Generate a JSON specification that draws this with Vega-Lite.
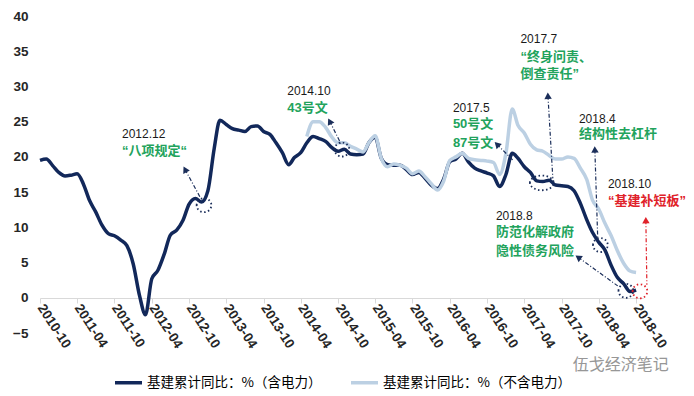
{
  "$schema": "https://vega.github.io/schema/vega-lite/v6.json",
  "width": 603,
  "height": 317,
  "autosize": {"type": "none"},
  "padding": {"left": 40, "top": 16, "right": 51, "bottom": 63},
  "background": "white",
  "config": {"view": {"stroke": null}, "font": "Liberation Sans, Noto Sans CJK SC", "axis": {"labelOverlap": false}, "axisX": {"labelOverlap": false}, "axisY": {"labelOverlap": false}},
  "datasets": {
    "series": [
      {"d": "2010/10/01", "incl": 19.5},
      {"d": "2010/11/01", "incl": 19.7},
      {"d": "2010/12/01", "incl": 18.8},
      {"d": "2011/01/01", "incl": 17.8},
      {"d": "2011/02/01", "incl": 17.3},
      {"d": "2011/03/01", "incl": 17.4},
      {"d": "2011/04/01", "incl": 17.6},
      {"d": "2011/05/01", "incl": 16.2},
      {"d": "2011/06/01", "incl": 13.8},
      {"d": "2011/07/01", "incl": 12.2},
      {"d": "2011/08/01", "incl": 10.3},
      {"d": "2011/09/01", "incl": 9.1},
      {"d": "2011/10/01", "incl": 8.8},
      {"d": "2011/11/01", "incl": 8.2},
      {"d": "2011/12/01", "incl": 7.4},
      {"d": "2012/01/01", "incl": 4.8},
      {"d": "2012/02/01", "incl": 0.3},
      {"d": "2012/03/01", "incl": -2.4},
      {"d": "2012/04/01", "incl": 2.7},
      {"d": "2012/05/01", "incl": 3.9},
      {"d": "2012/06/01", "incl": 6.2},
      {"d": "2012/07/01", "incl": 8.9},
      {"d": "2012/08/01", "incl": 9.6},
      {"d": "2012/09/01", "incl": 11.0},
      {"d": "2012/10/01", "incl": 13.3},
      {"d": "2012/11/01", "incl": 14.1},
      {"d": "2012/12/01", "incl": 13.6},
      {"d": "2013/01/01", "incl": 15.2},
      {"d": "2013/02/01", "incl": 21.2},
      {"d": "2013/03/01", "incl": 25.2},
      {"d": "2013/04/01", "incl": 24.6},
      {"d": "2013/05/01", "incl": 24.0},
      {"d": "2013/06/01", "incl": 23.8},
      {"d": "2013/07/01", "incl": 23.6},
      {"d": "2013/08/01", "incl": 24.3},
      {"d": "2013/09/01", "incl": 24.4},
      {"d": "2013/10/01", "incl": 23.6},
      {"d": "2013/11/01", "incl": 23.2},
      {"d": "2013/12/01", "incl": 22.0},
      {"d": "2014/01/01", "incl": 20.6},
      {"d": "2014/02/01", "incl": 18.9},
      {"d": "2014/03/01", "incl": 19.9},
      {"d": "2014/04/01", "incl": 20.6},
      {"d": "2014/05/01", "incl": 22.0, "excl": 22.9},
      {"d": "2014/06/01", "incl": 22.9, "excl": 25.0},
      {"d": "2014/07/01", "incl": 22.6, "excl": 25.0},
      {"d": "2014/08/01", "incl": 22.2, "excl": 24.2},
      {"d": "2014/09/01", "incl": 21.3, "excl": 22.8},
      {"d": "2014/10/01", "incl": 20.8, "excl": 22.0},
      {"d": "2014/11/01", "incl": 21.1, "excl": 22.0},
      {"d": "2014/12/01", "incl": 20.4, "excl": 21.5},
      {"d": "2015/01/01", "incl": 20.3, "excl": 21.1},
      {"d": "2015/02/01", "incl": 20.4, "excl": 20.7},
      {"d": "2015/03/01", "incl": 22.0, "excl": 22.0},
      {"d": "2015/04/01", "incl": 22.8, "excl": 23.0},
      {"d": "2015/05/01", "incl": 19.8, "excl": 19.8},
      {"d": "2015/06/01", "incl": 18.9, "excl": 18.6},
      {"d": "2015/07/01", "incl": 18.8, "excl": 19.0},
      {"d": "2015/08/01", "incl": 18.8, "excl": 18.8},
      {"d": "2015/09/01", "incl": 18.2, "excl": 18.4},
      {"d": "2015/10/01", "incl": 17.5, "excl": 17.6},
      {"d": "2015/11/01", "incl": 17.8, "excl": 18.0},
      {"d": "2015/12/01", "incl": 17.0, "excl": 17.2},
      {"d": "2016/01/01", "incl": 16.0, "excl": 16.2},
      {"d": "2016/02/01", "incl": 15.5, "excl": 15.3},
      {"d": "2016/03/01", "incl": 16.8, "excl": 16.5},
      {"d": "2016/04/01", "incl": 19.3, "excl": 19.5},
      {"d": "2016/05/01", "incl": 19.7, "excl": 20.0},
      {"d": "2016/06/01", "incl": 20.5, "excl": 20.5},
      {"d": "2016/07/01", "incl": 19.3, "excl": 19.8},
      {"d": "2016/08/01", "incl": 18.4, "excl": 19.6},
      {"d": "2016/09/01", "incl": 18.0, "excl": 19.5},
      {"d": "2016/10/01", "incl": 17.7, "excl": 19.4},
      {"d": "2016/11/01", "incl": 17.3, "excl": 19.2},
      {"d": "2016/12/01", "incl": 15.8, "excl": 17.5},
      {"d": "2017/01/01", "incl": 17.5, "excl": 20.5},
      {"d": "2017/02/01", "incl": 20.5, "excl": 26.8},
      {"d": "2017/03/01", "incl": 19.8, "excl": 24.5},
      {"d": "2017/04/01", "incl": 18.6, "excl": 23.4},
      {"d": "2017/05/01", "incl": 17.8, "excl": 21.8},
      {"d": "2017/06/01", "incl": 16.6, "excl": 21.0},
      {"d": "2017/07/01", "incl": 16.5, "excl": 20.8},
      {"d": "2017/08/01", "incl": 16.7, "excl": 20.2},
      {"d": "2017/09/01", "incl": 16.0, "excl": 19.7},
      {"d": "2017/10/01", "incl": 15.9, "excl": 19.7},
      {"d": "2017/11/01", "incl": 15.8, "excl": 20.0},
      {"d": "2017/12/01", "incl": 15.2, "excl": 19.8},
      {"d": "2018/01/01", "incl": 13.4, "excl": 18.4},
      {"d": "2018/02/01", "incl": 11.1, "excl": 16.8},
      {"d": "2018/03/01", "incl": 9.3, "excl": 13.9},
      {"d": "2018/04/01", "incl": 7.9, "excl": 12.6},
      {"d": "2018/05/01", "incl": 6.8, "excl": 10.6},
      {"d": "2018/06/01", "incl": 4.6, "excl": 8.8},
      {"d": "2018/07/01", "incl": 2.9, "excl": 6.7},
      {"d": "2018/08/01", "incl": 2.0, "excl": 4.9},
      {"d": "2018/09/01", "incl": 0.9, "excl": 3.8},
      {"d": "2018/10/01", "incl": 1.1, "excl": 3.6}
    ],
    "notes": [
      {"d": "2011/11/07", "v": 23.2, "label": "2012.12", "kind": "date"},
      {"d": "2011/11/07", "v": 20.8, "label": "“八项规定“", "kind": "tightening"},
      {"d": "2014/01/25", "v": 29.4, "label": "2014.10", "kind": "date"},
      {"d": "2014/01/25", "v": 27.0, "label": "43号文", "kind": "tightening"},
      {"d": "2016/04/16", "v": 26.9, "label": "2017.5", "kind": "date"},
      {"d": "2016/04/16", "v": 24.6, "label": "50号文", "kind": "tightening"},
      {"d": "2016/04/16", "v": 22.0, "label": "87号文", "kind": "tightening"},
      {"d": "2017/03/13", "v": 36.7, "label": "2017.7", "kind": "date"},
      {"d": "2017/03/13", "v": 34.2, "label": "“终身问责、", "kind": "tightening"},
      {"d": "2017/03/13", "v": 31.7, "label": "倒查责任”", "kind": "tightening"},
      {"d": "2017/12/25", "v": 25.4, "label": "2018.4", "kind": "date"},
      {"d": "2017/12/25", "v": 23.2, "label": "结构性去杠杆", "kind": "tightening"},
      {"d": "2018/05/16", "v": 16.1, "label": "2018.10", "kind": "date"},
      {"d": "2018/05/16", "v": 13.8, "label": "“基建补短板”", "kind": "easing"},
      {"d": "2016/11/13", "v": 11.65, "label": "2018.8", "kind": "date"},
      {"d": "2016/11/13", "v": 9.3, "label": "防范化解政府", "kind": "tightening"},
      {"d": "2016/11/13", "v": 6.7, "label": "隐性债务风险", "kind": "tightening"}
    ],
    "arrows": [
      {"d": "2012/09/11", "v": 18.22, "d2": "2012/11/24", "v2": 14.27, "bearing": 332, "stance": "tightening"},
      {"d": "2014/08/21", "v": 25.06, "d2": "2014/10/15", "v2": 21.89, "bearing": 333, "stance": "tightening"},
      {"d": "2016/11/18", "v": 21.78, "d2": "2017/02/06", "v2": 19.49, "bearing": 315, "stance": "tightening"},
      {"d": "2017/07/26", "v": 28.67, "d2": "2017/08/19", "v2": 16.95, "bearing": 357, "stance": "tightening"},
      {"d": "2018/03/13", "v": 21.05, "d2": "2018/03/27", "v2": 8.47, "bearing": 358, "stance": "tightening"},
      {"d": "2017/12/21", "v": 5.75, "d2": "2018/07/03", "v2": 1.69, "bearing": 305, "stance": "tightening"},
      {"d": "2018/11/18", "v": 11.02, "d2": "2018/11/23", "v2": 1.84, "bearing": 359, "stance": "easing"}
    ],
    "circles": [
      {"d": "2012/12/13", "v": 13.14, "span": "single", "stance": "tightening"},
      {"d": "2014/10/20", "v": 21.05, "span": "single", "stance": "tightening"},
      {"d": "2017/06/26", "v": 16.31, "span": "double", "stance": "tightening"},
      {"d": "2018/04/09", "v": 7.49, "span": "single", "stance": "tightening"},
      {"d": "2018/08/12", "v": 0.99, "span": "single", "stance": "tightening"},
      {"d": "2018/10/20", "v": 0.92, "span": "single", "stance": "easing"}
    ],
    "mark": [
      {"d": "2017/11/25", "v": -9.5, "label": "伍戈经济笔记"}
    ]
  },
  "encoding": {
    "x": {
      "field": "d", "type": "temporal", "title": null,
      "scale": {"domain": [{"year": 2010, "month": 10, "date": 1}, {"year": 2018, "month": 11, "date": 4}]},
      "axis": {
        "values": [
          {"year": 2010, "month": 10, "date": 1}, {"year": 2011, "month": 4, "date": 1},
          {"year": 2011, "month": 10, "date": 1}, {"year": 2012, "month": 4, "date": 1},
          {"year": 2012, "month": 10, "date": 1}, {"year": 2013, "month": 4, "date": 1},
          {"year": 2013, "month": 10, "date": 1}, {"year": 2014, "month": 4, "date": 1},
          {"year": 2014, "month": 10, "date": 1}, {"year": 2015, "month": 4, "date": 1},
          {"year": 2015, "month": 10, "date": 1}, {"year": 2016, "month": 4, "date": 1},
          {"year": 2016, "month": 10, "date": 1}, {"year": 2017, "month": 4, "date": 1},
          {"year": 2017, "month": 10, "date": 1}, {"year": 2018, "month": 4, "date": 1},
          {"year": 2018, "month": 10, "date": 1}
        ],
        "format": "%Y-%m",
        "labelAngle": 57,
        "labelFont": "Liberation Sans",
        "labelFontWeight": "bold",
        "labelFontSize": 13.5,
        "labelColor": "#262626",
        "labelOverlap": false,
        "labelFlush": false,
        "labelPadding": 2,
        "domainColor": "#D9D9D9",
        "tickColor": "#D9D9D9",
        "tickSize": 5,
        "grid": false,
        "offset": -35
      }
    },
    "y": {
      "field": "v", "type": "quantitative", "title": null,
      "scale": {"domain": [-5, 40], "nice": false, "zero": false},
      "axis": {
        "values": [-5, 0, 5, 10, 15, 20, 25, 30, 35, 40],
        "domain": false, "ticks": false, "grid": false, "labelOverlap": false,
        "labelFont": "Liberation Sans", "labelFontWeight": "bold", "labelFontSize": 13.5,
        "labelColor": "#262626", "labelPadding": 12
      }
    }
  },
  "layer": [
    {
      "data": {"name": "series"},
      "transform": [{"fold": ["incl", "excl"], "as": ["series", "v"]}],
      "mark": {"type": "line", "strokeWidth": 3.5, "interpolate": "monotone"},
      "encoding": {
        "stroke": {
          "field": "series", "type": "nominal",
          "scale": {"domain": ["incl", "excl"], "range": ["#12285A", "#BCD0E3"]},
          "legend": {
            "orient": "none", "legendX": 73, "legendY": 351,
            "direction": "horizontal", "columns": 2, "title": null,
            "symbolType": "stroke", "symbolSize": 729, "symbolStrokeWidth": 3.5,
            "labelFont": "Noto Sans CJK SC", "labelFontSize": 13.5, "labelColor": "#000000",
            "labelLimit": 300, "columnPadding": 22, "labelOffset": 3, "padding": 0,
            "labelExpr": "datum.value == 'incl' ? '基建累计同比：%（含电力）' : '基建累计同比：%（不含电力）'"
          }
        }
      }
    },
    {
      "data": {"name": "arrows"},
      "mark": {"type": "rule", "strokeWidth": 1.2, "strokeDash": [4, 2, 1, 2]},
      "encoding": {
        "x2": {"field": "d2"},
        "y2": {"field": "v2"},
        "color": {"field": "stance", "type": "nominal", "scale": {"domain": ["tightening", "easing"], "range": ["#1B2E5A", "#E0222A"]}, "legend": null}
      }
    },
    {
      "data": {"name": "arrows"},
      "mark": {"type": "point", "shape": "triangle-up", "filled": true, "size": 55, "opacity": 1},
      "encoding": {
        "angle": {"field": "bearing", "type": "quantitative", "scale": null},
        "color": {"field": "stance", "type": "nominal", "legend": null}
      }
    },
    {
      "data": {"name": "circles"},
      "mark": {"type": "point", "filled": false, "size": 196, "strokeWidth": 1.8, "strokeDash": [1.5, 2.5], "opacity": 1},
      "encoding": {
        "shape": {"field": "span", "type": "nominal", "scale": {"domain": ["single", "double"], "range": ["M -1.05 0 A 1.05 1 0 1 1 1.05 0 A 1.05 1 0 1 1 -1.05 0 Z", "M -1.7 0 A 1.7 1.05 0 1 1 1.7 0 A 1.7 1.05 0 1 1 -1.7 0 Z"]}, "legend": null},
        "color": {"field": "stance", "type": "nominal", "legend": null}
      }
    },
    {
      "data": {"name": "notes"},
      "transform": [{"filter": "datum.kind == 'date'"}],
      "mark": {"type": "text", "align": "left", "baseline": "middle", "font": "Liberation Sans", "fontSize": 12, "color": "#1A1A1A"},
      "encoding": {"text": {"field": "label"}}
    },
    {
      "data": {"name": "notes"},
      "transform": [{"filter": "datum.kind == 'tightening'"}],
      "mark": {"type": "text", "align": "left", "baseline": "middle", "font": "Liberation Sans, Noto Sans CJK SC", "fontSize": 13, "fontWeight": "bold", "color": "#22A35C"},
      "encoding": {"text": {"field": "label"}}
    },
    {
      "data": {"name": "notes"},
      "transform": [{"filter": "datum.kind == 'easing'"}],
      "mark": {"type": "text", "align": "left", "baseline": "middle", "font": "Liberation Sans, Noto Sans CJK SC", "fontSize": 13, "fontWeight": "bold", "color": "#E0222A"},
      "encoding": {"text": {"field": "label"}}
    },
    {
      "data": {"name": "mark"},
      "mark": {"type": "text", "align": "left", "baseline": "middle", "font": "Noto Sans CJK SC", "fontSize": 16, "color": "#8C8C8C", "opacity": 0.9},
      "encoding": {"text": {"field": "label"}}
    }
  ]
}
